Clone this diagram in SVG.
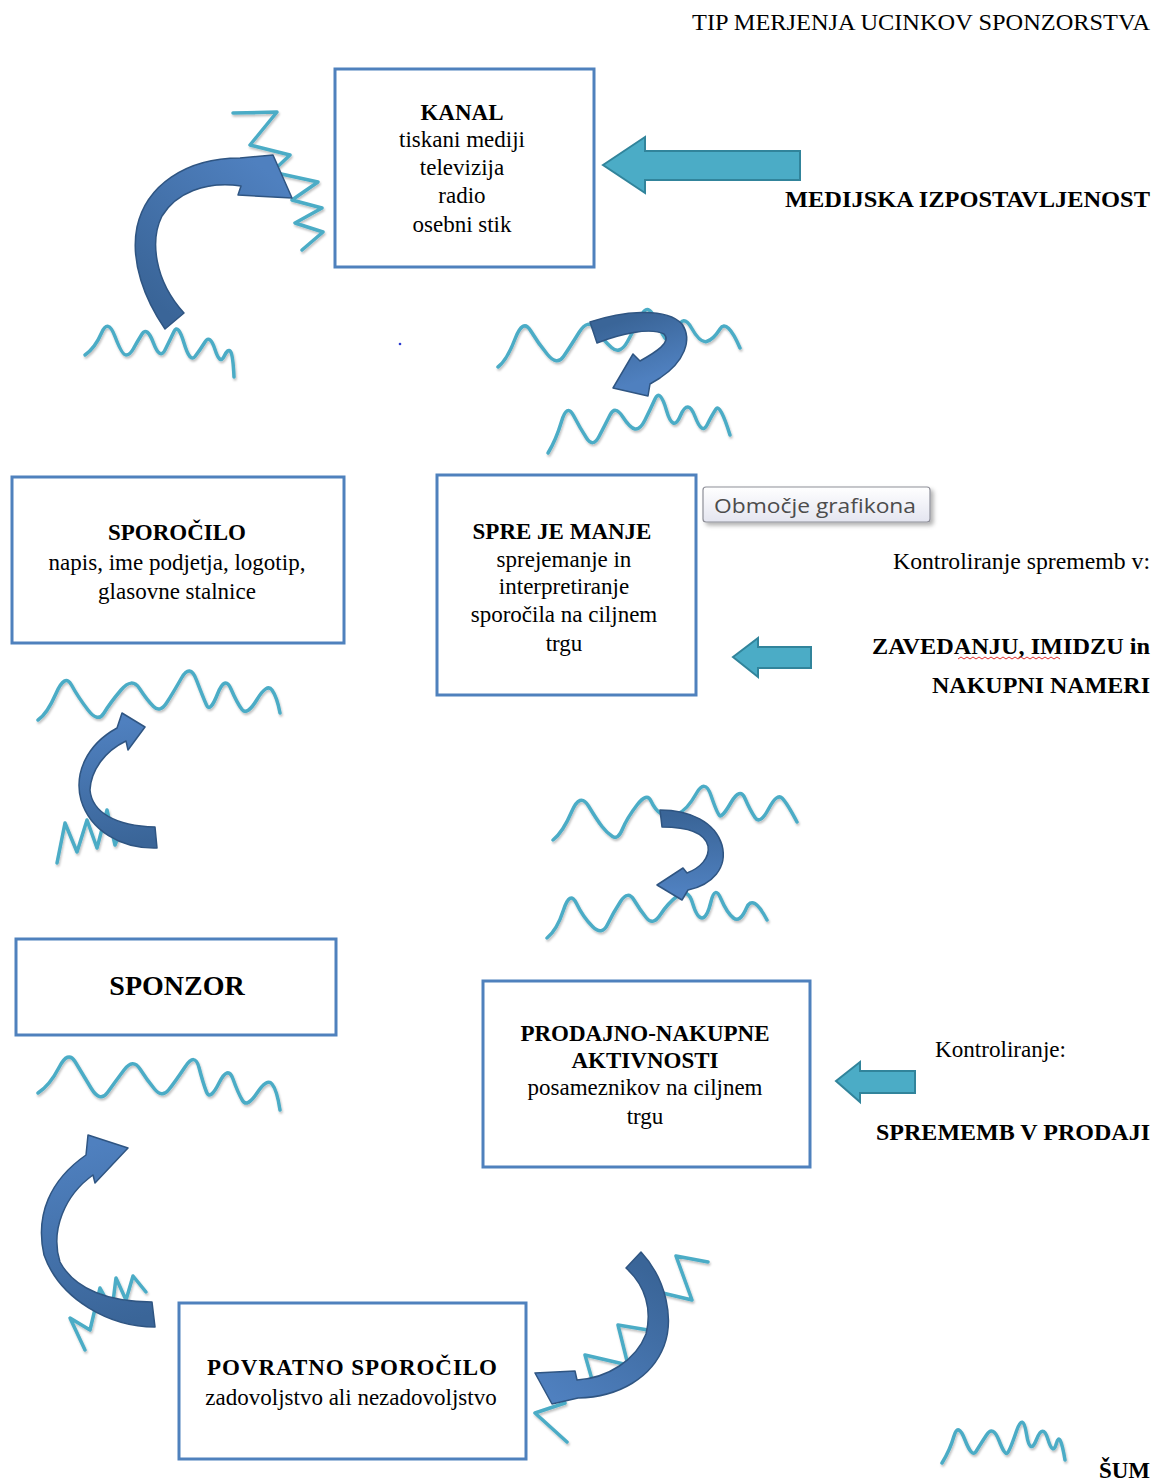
<svg xmlns="http://www.w3.org/2000/svg" width="1160" height="1481" viewBox="0 0 1160 1481">
  <style>
    .box { fill: #ffffff; stroke: #4f81bd; stroke-width: 3; }
    .t { font-family: "Liberation Serif", "Times New Roman", serif; font-size: 23px; fill: #000; }
    .b { font-weight: bold; }
    .c { text-anchor: middle; }
    .r { text-anchor: end; }
    .wave { fill: none; stroke: #4bacc6; stroke-width: 3.5; stroke-linejoin: round; stroke-linecap: round; filter: url(#sh); }
    .carrow { stroke: #2f5582; stroke-width: 1.5; stroke-linejoin: round; }
    .barrow { fill: #4bacc6; stroke: #31849b; stroke-width: 2; stroke-linejoin: miter; }
  </style>
  <defs>
    <filter id="sh" x="-10%" y="-10%" width="130%" height="140%">
      <feDropShadow dx="1" dy="2" stdDeviation="1.2" flood-color="#000" flood-opacity="0.25"/>
    </filter>
    <filter id="tsh" x="-10%" y="-20%" width="130%" height="160%">
      <feDropShadow dx="3" dy="3" stdDeviation="2" flood-color="#000" flood-opacity="0.3"/>
    </filter>
    <linearGradient id="tip" x1="0" y1="0" x2="0" y2="1">
      <stop offset="0" stop-color="#ffffff"/>
      <stop offset="1" stop-color="#e4e5f0"/>
    </linearGradient>
    <linearGradient id="gA" gradientUnits="userSpaceOnUse" x1="175" y1="320" x2="288" y2="190">
      <stop offset="0" stop-color="#3a6598"/><stop offset="1" stop-color="#4f80bf"/>
    </linearGradient>
    <linearGradient id="gB" gradientUnits="userSpaceOnUse" x1="593" y1="330" x2="613" y2="390">
      <stop offset="0" stop-color="#3a6598"/><stop offset="1" stop-color="#4f80bf"/>
    </linearGradient>
    <linearGradient id="gC" gradientUnits="userSpaceOnUse" x1="156" y1="840" x2="140" y2="720">
      <stop offset="0" stop-color="#3a6598"/><stop offset="1" stop-color="#4f80bf"/>
    </linearGradient>
    <linearGradient id="gD" gradientUnits="userSpaceOnUse" x1="661" y1="815" x2="660" y2="890">
      <stop offset="0" stop-color="#3a6598"/><stop offset="1" stop-color="#4f80bf"/>
    </linearGradient>
    <linearGradient id="gE" gradientUnits="userSpaceOnUse" x1="153" y1="1315" x2="110" y2="1140">
      <stop offset="0" stop-color="#3a6598"/><stop offset="1" stop-color="#4f80bf"/>
    </linearGradient>
    <linearGradient id="gF" gradientUnits="userSpaceOnUse" x1="634" y1="1260" x2="540" y2="1388">
      <stop offset="0" stop-color="#3a6598"/><stop offset="1" stop-color="#4f80bf"/>
    </linearGradient>
  </defs>

  <rect x="0" y="0" width="1160" height="1481" fill="#ffffff"/>

  <!-- noise squiggles -->
  <g id="noise">
    <path class="wave" d="M85,355 Q95,348 101.5,333 Q108,318 115,336.5 Q122,355 126,355 Q130,355 133.5,348.5 Q137,342 142,334 Q147,326 153.5,343 Q160,360 165,350 Q170,340 174,331.5 Q178,323 184,343 Q190,363 195,356.5 Q200,350 205,342 Q210,334 215,349.5 Q220,365 224,356.5 Q228,348 230.5,351.5 Q233,355 234,377"/>
    <polyline class="wave" points="233,113 277,112 250,145 290,155 272,172 318,182 292,200 322,208 295,223 323,232 302,250"/>
    <path class="wave" d="M498,367 Q507,360 515,339 Q523,318 530.5,330.5 Q538,343 547.5,354.5 Q557,366 563.5,356.5 Q570,347 579,332.5 Q588,318 595.5,329 Q603,340 611.5,347.5 Q620,355 627.5,341.5 Q635,328 641.5,315 Q648,302 655.5,319.5 Q663,337 667.5,341 Q672,345 677.5,329 Q683,313 691.5,328 Q700,343 706.5,341.5 Q713,340 720,329 Q727,318 740,348"/>
    <path class="wave" d="M548,453 Q556,440 561.5,421.5 Q567,403 573.5,415.5 Q580,428 586.5,438 Q593,448 599,436.5 Q605,425 610,415 Q615,405 622.5,416.5 Q630,428 635,429 Q640,430 645,420 Q650,410 655,399 Q660,388 666.5,410.5 Q673,433 680.5,415.5 Q688,398 695,416.5 Q702,435 707,425 Q712,415 716,409 Q720,403 730,435"/>
    <path class="wave" d="M38,720 Q47,714 56,693.5 Q65,673 71.5,685 Q78,697 88,710 Q98,723 104,713 Q110,703 121,690 Q132,677 139.5,688.5 Q147,700 153.5,706.5 Q160,713 166.5,703 Q173,693 181.5,678 Q190,663 196.5,680 Q203,697 206.5,705 Q210,713 217.5,694 Q225,675 231,689 Q237,703 242,709.5 Q247,716 257,699.5 Q267,683 272,690 Q277,697 280,713"/>
    <polyline class="wave" points="57,863 65,823 77,852 87,820 97,848 107,810 115,845 123,825 133,840 137,827"/>
    <path class="wave" d="M553,840 Q563,832 571.5,812 Q580,792 588.5,806 Q597,820 602,826.5 Q607,833 612.5,836.5 Q618,840 622.5,829 Q627,818 637,805 Q647,792 651,801 Q655,810 661.5,814 Q668,818 677.5,814 Q687,810 696,794 Q705,778 711,795.5 Q717,813 719.5,815.5 Q722,818 731,802.5 Q740,787 745,798.5 Q750,810 755,817.5 Q760,825 768.5,809 Q777,793 782,798 Q787,803 797,822"/>
    <path class="wave" d="M547,938 Q557,930 563.5,910 Q570,890 576.5,903.5 Q583,917 592.5,926.5 Q602,936 607.5,924.5 Q613,913 620.5,901.5 Q628,890 634,900 Q640,910 646.5,918 Q653,926 660.5,914.5 Q668,903 678,895.5 Q688,888 692.5,903 Q697,918 702,918 Q707,918 711,901.5 Q715,885 721,899 Q727,913 733.5,918 Q740,923 746.5,908 Q753,893 767,920"/>
    <path class="wave" d="M38,1093 Q50,1085 59,1067.5 Q68,1050 75,1061.5 Q82,1073 91,1088 Q100,1103 107.5,1092.5 Q115,1082 124,1070 Q133,1058 140,1069 Q147,1080 154.5,1089 Q162,1098 168.5,1090 Q175,1082 185,1067 Q195,1052 199,1067.5 Q203,1083 206.5,1092 Q210,1101 219,1083 Q228,1065 233,1079 Q238,1093 242.5,1100.5 Q247,1108 257,1093 Q267,1078 272,1084 Q277,1090 280,1110"/>
    <polyline class="wave" points="85,1350 70,1318 90,1330 100,1288 112,1310 116,1278 126,1300 133,1276 146,1292"/>
    <polyline class="wave" points="567,1442 535,1413 565,1403 550,1378 595,1390 585,1355 628,1365 618,1325 660,1332 650,1290 692,1300 676,1256 708,1262"/>
    <path class="wave" d="M942,1463 Q950,1450 954,1436 Q958,1422 965,1440 Q972,1458 976,1451.5 Q980,1445 986.5,1435 Q993,1425 999,1440.5 Q1005,1456 1007.5,1453 Q1010,1450 1016.5,1431 Q1023,1412 1026.5,1434 Q1030,1456 1036.5,1439.5 Q1043,1423 1048,1439.5 Q1053,1456 1056.5,1443 Q1060,1430 1065,1460"/>
  </g>

  <!-- nodes -->
  <g id="kanal">
    <rect class="box" x="335" y="69" width="259" height="198"/>
    <text class="t b c" x="462" y="120">KANAL</text>
    <text class="t c" x="462" y="147">tiskani mediji</text>
    <text class="t c" x="462" y="175">televizija</text>
    <text class="t c" x="462" y="203">radio</text>
    <text class="t c" x="462" y="232">osebni stik</text>
  </g>
  <g id="sporocilo">
    <rect class="box" x="12" y="477" width="332" height="166"/>
    <text class="t b c" x="177" y="540">SPOROČILO</text>
    <text class="t c" x="177" y="570">napis, ime podjetja, logotip,</text>
    <text class="t c" x="177" y="599">glasovne stalnice</text>
  </g>
  <g id="sprejemanje">
    <rect class="box" x="437" y="475" width="259" height="220"/>
    <text class="t b c" x="562" y="539">SPRE JE MANJE</text>
    <text class="t c" x="564" y="567">sprejemanje in</text>
    <text class="t c" x="564" y="594">interpretiranje</text>
    <text class="t c" x="564" y="622">sporočila na ciljnem</text>
    <text class="t c" x="564" y="651">trgu</text>
  </g>
  <g id="sponzor">
    <rect class="box" x="16" y="939" width="320" height="96"/>
    <text class="t b c" x="177" y="995" style="font-size:28px">SPONZOR</text>
  </g>
  <g id="prodajno">
    <rect class="box" x="483" y="981" width="327" height="186"/>
    <text class="t b c" x="645" y="1041">PRODAJNO-NAKUPNE</text>
    <text class="t b c" x="645" y="1068">AKTIVNOSTI</text>
    <text class="t c" x="645" y="1095">posameznikov na ciljnem</text>
    <text class="t c" x="645" y="1124">trgu</text>
  </g>
  <g id="povratno">
    <rect class="box" x="179" y="1303" width="347" height="156"/>
    <text class="t b c" x="352" y="1375" textLength="290" lengthAdjust="spacing">POVRATNO SPOROČILO</text>
    <text class="t c" x="351" y="1405">zadovoljstvo ali nezadovoljstvo</text>
  </g>

  <!-- connectors -->
  <g id="connectors">
    <path class="carrow" fill="url(#gA)" d="M165,329 C145,300 130,262 137,227 C146,186 185,158 240,158 L273,155 L292,198 L238,195 L241,186 C205,181 176,193 162,216 C150,240 154,280 184,313 Z"/>
    <path class="carrow" fill="url(#gB)" d="M590,322 C620,312 665,306 682,324 C693,340 684,362 660,378 L650,384 L648,396 L613,388 L633,354 L640,361 C656,352 672,342 664,334 C650,327 620,334 597,343 Z"/>
    <path class="carrow" fill="url(#gC)" d="M157,848 C120,849 90,830 81,800 C74,774 86,745 117,728 L122,713 L145,727 L128,750 L126,741 C105,751 91,770 90,790 C92,812 115,826 155,827 Z"/>
    <path class="carrow" fill="url(#gD)" d="M660,810 C690,810 715,822 722,845 C728,868 712,885 688,890 L682,900 L657,885 L683,868 L687,873 C700,868 710,858 708,846 C705,834 690,827 662,827 Z"/>
    <path class="carrow" fill="url(#gE)" d="M155,1327 C110,1327 60,1300 44,1255 C35,1215 50,1180 86,1155 L88,1135 L128,1148 L95,1183 L93,1175 C65,1195 50,1230 60,1262 C75,1290 110,1302 152,1302 Z"/>
    <path class="carrow" fill="url(#gF)" d="M641,1252 C667,1280 674,1320 664,1346 C652,1377 620,1397 578,1398 L552,1404 L535,1373 L575,1371 L577,1380 C608,1378 636,1360 646,1334 C652,1310 646,1286 626,1268 Z"/>

    <path class="barrow" d="M603,165 L645,137 L645,151 L800,151 L800,180 L645,180 L645,193 Z"/>
    <path class="barrow" d="M733,657 L758,638 L758,647 L811,647 L811,668 L758,668 L758,677 Z"/>
    <path class="barrow" d="M836,1081 L860,1062 L860,1071 L915,1071 L915,1093 L860,1093 L860,1102 Z"/>
  </g>

  <!-- side labels -->
  <g id="labels">
    <text class="t r" x="1150" y="30" textLength="458" lengthAdjust="spacingAndGlyphs">TIP MERJENJA UCINKOV SPONZORSTVA</text>
    <text class="t b r" x="1150" y="207" textLength="365" lengthAdjust="spacingAndGlyphs">MEDIJSKA IZPOSTAVLJENOST</text>
    <text class="t r" x="1150" y="569" textLength="257" lengthAdjust="spacingAndGlyphs">Kontroliranje sprememb v:</text>
    <text class="t b r" x="1150" y="654" textLength="278" lengthAdjust="spacingAndGlyphs">ZAVEDANJU, IMIDZU in</text>
    <path d="M958,659 l3,-2 l3,2 l3,-2 l3,2 l3,-2 l3,2 l3,-2 l3,2 l3,-2 l3,2 l3,-2 l3,2 l3,-2 l3,2 l3,-2 l3,2 l3,-2 l3,2 l3,-2 l3,2 l3,-2 l3,2 l3,-2 l3,2 l3,-2 l3,2 l3,-2 l3,2 l3,-2 l3,2 l3,-2 l3,2 l3,-2 l3,2" fill="none" stroke="#e03030" stroke-width="1"/>
    <text class="t b r" x="1150" y="693" textLength="218" lengthAdjust="spacingAndGlyphs">NAKUPNI NAMERI</text>
    <text class="t" x="935" y="1057" textLength="131" lengthAdjust="spacingAndGlyphs">Kontroliranje:</text>
    <text class="t b r" x="1150" y="1140" textLength="274" lengthAdjust="spacingAndGlyphs">SPREMEMB V PRODAJI</text>
    <text class="t b r" x="1150" y="1478">ŠUM</text>
    <circle cx="400" cy="344" r="1.3" fill="#2a3ad0"/>
  </g>

  <!-- tooltip -->
  <g id="tooltip">
    <rect x="703" y="487" width="227" height="35" rx="3" fill="url(#tip)" stroke="#8e8f98" stroke-width="1.2" filter="url(#tsh)"/>
    <text x="714" y="513" font-family="'Open Sans', 'DejaVu Sans', sans-serif" font-size="20" fill="#4c4c4c" textLength="202" lengthAdjust="spacingAndGlyphs">Območje grafikona</text>
  </g>
</svg>
